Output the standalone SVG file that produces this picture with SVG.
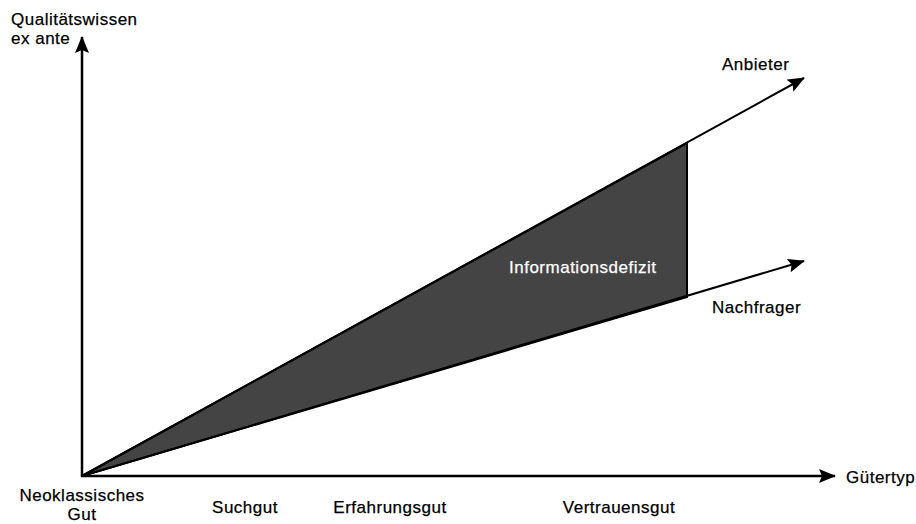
<svg xmlns="http://www.w3.org/2000/svg" width="916" height="524" viewBox="0 0 916 524">
<style>
text{font-family:"Liberation Sans",Arial,sans-serif;font-size:17px;letter-spacing:0.5px;fill:#000;stroke:#000;stroke-width:0.25}
.c{text-anchor:middle}
.w{fill:#fff;stroke:#fff}
.ax{stroke:#000;stroke-width:2.5;fill:none}
.ln{stroke:#000;stroke-width:2;fill:none}
</style>
<defs>
<marker id="ah" markerUnits="userSpaceOnUse" markerWidth="18" markerHeight="14" refX="16" refY="7" orient="auto">
<path d="M0,0 L17,7 L0,14 L3,7 Z" fill="#000"/>
</marker>
</defs>
<g id="area">
<polygon points="82,476 687,143 687,297" fill="#444" stroke="#000" stroke-width="2"/>
</g>
<g id="connectors">
<line class="ax" x1="82" y1="477" x2="82" y2="37" marker-end="url(#ah)"/>
<line class="ax" x1="81" y1="476" x2="835" y2="476" marker-end="url(#ah)"/>
<line class="ln" x1="82" y1="476" x2="804" y2="78" marker-end="url(#ah)"/>
<line class="ln" x1="82" y1="476" x2="804" y2="261" marker-end="url(#ah)"/>
</g>
<g id="labels">
<text x="11" y="25">Qualitätswissen</text>
<text x="11" y="44">ex ante</text>
<text x="722" y="70">Anbieter</text>
<text x="712" y="313">Nachfrager</text>
<text class="w" x="509" y="273">Informationsdefizit</text>
<text x="846" y="483">Gütertyp</text>
<text class="c" x="82" y="501">Neoklassisches</text>
<text class="c" x="82" y="520">Gut</text>
<text class="c" x="245" y="513">Suchgut</text>
<text class="c" x="390" y="513">Erfahrungsgut</text>
<text class="c" x="619" y="513">Vertrauensgut</text>
</g>
</svg>
